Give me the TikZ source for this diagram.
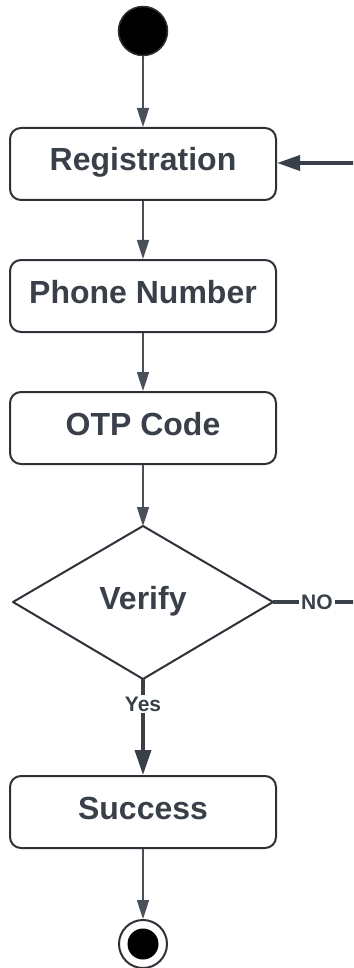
\documentclass[tikz,border=0pt]{standalone}
\usepackage{fontspec}
\setmainfont{Liberation Sans}
\usetikzlibrary{arrows.meta}
\definecolor{txt}{HTML}{3A404A}
\definecolor{edge}{HTML}{2E3138}
\definecolor{conn}{HTML}{4A5059}
\tikzset{
  bigfont/.style={font=\fontsize{32}{38}\selectfont\bfseries, text=txt},
  act/.style={draw=edge, line width=2pt, rounded corners=11pt, minimum width=266pt, minimum height=72pt, bigfont, inner sep=0pt, text height=22pt, text depth=8pt},
  thin/.style={draw=conn, line width=1.6pt, -{Triangle[length=19pt,width=12pt]}},
  thick/.style={draw=txt, line width=3.6pt},
  lbl/.style={text=txt, font=\fontsize{21}{24}\selectfont\bfseries, fill=white, inner sep=2pt},
}
\begin{document}
\begin{tikzpicture}[x=1pt,y=-1pt]
\path[use as bounding box] (0,0) rectangle (353,968);
\clip (0,0) rectangle (353,968);
\node[circle, fill=black, draw=edge, line width=1.5pt, minimum size=49pt, inner sep=0pt] (start) at (143,31) {};
\node[act] (reg) at (143,164) {Registration};
\node[act] (phone) at (143,296) {Phone Number};
\node[act] (otp) at (143,428) {OTP Code};
\coordinate (vN) at (143,526);
\coordinate (vE) at (273,602);
\coordinate (vS) at (143,679);
\coordinate (vW) at (13,602);
\path[draw=edge, line width=2pt, line join=round, fill=white] (vN) -- (vE) -- (vS) -- (vW) -- cycle;
\node[bigfont, inner sep=0pt, text height=22pt, text depth=8pt] (verify) at (143,602) {Verify};
\node[act] (succ) at (143,812) {Success};
\node[circle, draw=edge, line width=2pt, fill=white, minimum size=48pt, inner sep=0pt] (endo) at (143,944) {};
\node[circle, fill=black, minimum size=31pt, inner sep=0pt] (endi) at (143,944) {};
\draw[thin] (start) -- (reg);
\draw[thin] (reg) -- (phone);
\draw[thin] (phone) -- (otp);
\draw[thin] (otp) -- (vN);
\draw[thin] (succ) -- (endo);
\coordinate (loopR) at (380,602);
\coordinate (loopT) at (380,163);
\draw[thick, -{Triangle[length=23pt,width=15pt]}] (vE) -- node[lbl, pos=0.41] {NO} (loopR) -- (loopT) -- (reg.east |- loopT);
\draw[thick, -{Triangle[length=25pt,width=16pt]}] (vS) -- node[lbl, pos=0.26] {Yes} (succ);
\end{tikzpicture}
\end{document}
